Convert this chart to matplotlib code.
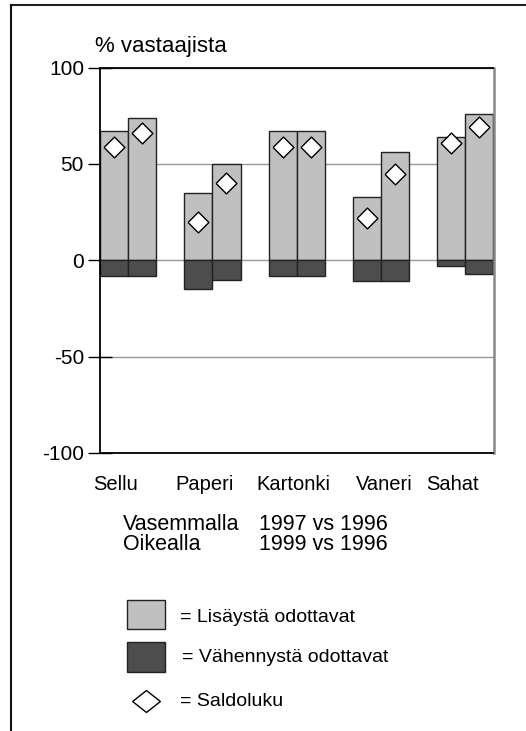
import numpy as np
import matplotlib
matplotlib.use("Agg")
import matplotlib.pyplot as plt
from matplotlib.patches import Rectangle
from matplotlib.lines import Line2D

plt.rcParams['font.family'] = ['Liberation Sans', 'DejaVu Sans']
plt.rcParams['axes.unicode_minus'] = False

# data
toimialat = ["Sellu", "Paperi", "Kartonki", "Vaneri", "Sahat"]
lisays_97 = [67, 35, 67, 33, 64]
lisays_99 = [74, 50, 67, 56, 76]
vahennys_97 = [-8, -15, -8, -11, -3]
vahennys_99 = [-8, -10, -8, -11, -7]
saldo_97 = [59, 20, 59, 22, 61]
saldo_99 = [66, 40, 59, 45, 69]
y_ticks = [-100, -50, 0, 50, 100]

VAALEA = "#c0c0c0"
TUMMA = "#4d4d4d"
REUNA = "#222222"

W, H = 526, 731
fig = plt.figure(figsize=(W / 100, H / 100), dpi=100)
ax = fig.add_axes([100 / W, 1 - 453 / H, 393.5 / W, (453 - 67.5) / H])

x_vas = np.arange(len(toimialat)) * 3
x_oik = x_vas + 1

for xs, up, down in [(x_vas, lisays_97, vahennys_97), (x_oik, lisays_99, vahennys_99)]:
    ax.bar(xs, up, width=1, align='edge', color=VAALEA, edgecolor=REUNA, linewidth=1, zorder=2)
    ax.bar(xs, down, width=1, align='edge', color=TUMMA, edgecolor=REUNA, linewidth=1, zorder=2)

# saldoluku diamonds
timantti = [(-1, 0), (0, 1), (1, 0), (0, -1), (-1, 0)]
for xs, saldo in [(x_vas, saldo_97), (x_oik, saldo_99)]:
    ax.plot(xs + 0.5, saldo, linestyle='none', marker=timantti, markersize=15,
            markerfacecolor='white', markeredgecolor='black', markeredgewidth=1, zorder=3)

ax.set_xlim(0, 14)
ax.set_ylim(-100, 100)
ax.set_yticks(y_ticks)
ax.tick_params(axis='y', direction='inout', length=17, width=1, labelsize=15, pad=3)
ax.yaxis.grid(True, color='#999999', linewidth=1)
ax.set_axisbelow(True)

# category labels (not quite centred in the original)
label_pos = [0.55, 3.72, 6.89, 10.1, 12.54]
ax.set_xticks(label_pos)
ax.set_xticklabels(toimialat, fontsize=14.5)
ax.tick_params(axis='x', length=0, pad=16)

for s in ['left', 'top', 'bottom']:
    ax.spines[s].set_color('black')
    ax.spines[s].set_linewidth(1.3)
ax.spines['right'].set_color('#888888')
ax.spines['right'].set_linewidth(1.8)

fig.text(95 / W, 1 - 52 / H, "% vastaajista", fontsize=16, ha='left', va='baseline')

# explanation lines (baseline refers to the last line)
fig.text(123 / W, 1 - 550 / H, "Vasemmalla\nOikealla", fontsize=15.5, va='baseline',
         linespacing=0.95)
fig.text(388 / W, 1 - 550 / H, "1997 vs 1996\n1999 vs 1996", fontsize=15.5, va='baseline',
         ha='right', multialignment='right', linespacing=0.95)

# legend
fig.patches.append(Rectangle((127 / W, 1 - 629 / H), 38 / W, 29 / H, transform=fig.transFigure,
                             facecolor=VAALEA, edgecolor=REUNA, linewidth=1))
fig.patches.append(Rectangle((127 / W, 1 - 672 / H), 38 / W, 30 / H, transform=fig.transFigure,
                             facecolor=TUMMA, edgecolor=REUNA, linewidth=1))
leg_timantti = [(-1, 0), (0, 0.79), (1, 0), (0, -0.79), (-1, 0)]
fig.lines.append(Line2D([146 / W], [1 - 701 / H], transform=fig.transFigure, linestyle='none',
                        marker=leg_timantti, markersize=20, markerfacecolor='white',
                        markeredgecolor='black', markeredgewidth=1))
fig.text(180 / W, 1 - 618 / H, "= Lisäystä odottavat", fontsize=14, va='center')
fig.text(182 / W, 1 - 657 / H, "= Vähennystä odottavat", fontsize=14, va='center')
fig.text(180 / W, 1 - 702 / H, "= Saldoluku", fontsize=14, va='center')

# frame lines (top and left only)
fig.lines.append(Line2D([11 / W, 1], [1 - 5 / H, 1 - 5 / H], transform=fig.transFigure,
                        color='#222222', linewidth=1.5))
fig.lines.append(Line2D([11 / W, 11 / W], [1 - 5 / H, 0], transform=fig.transFigure,
                        color='#111111', linewidth=1.5))

fig.savefig("out.png", dpi=100)
